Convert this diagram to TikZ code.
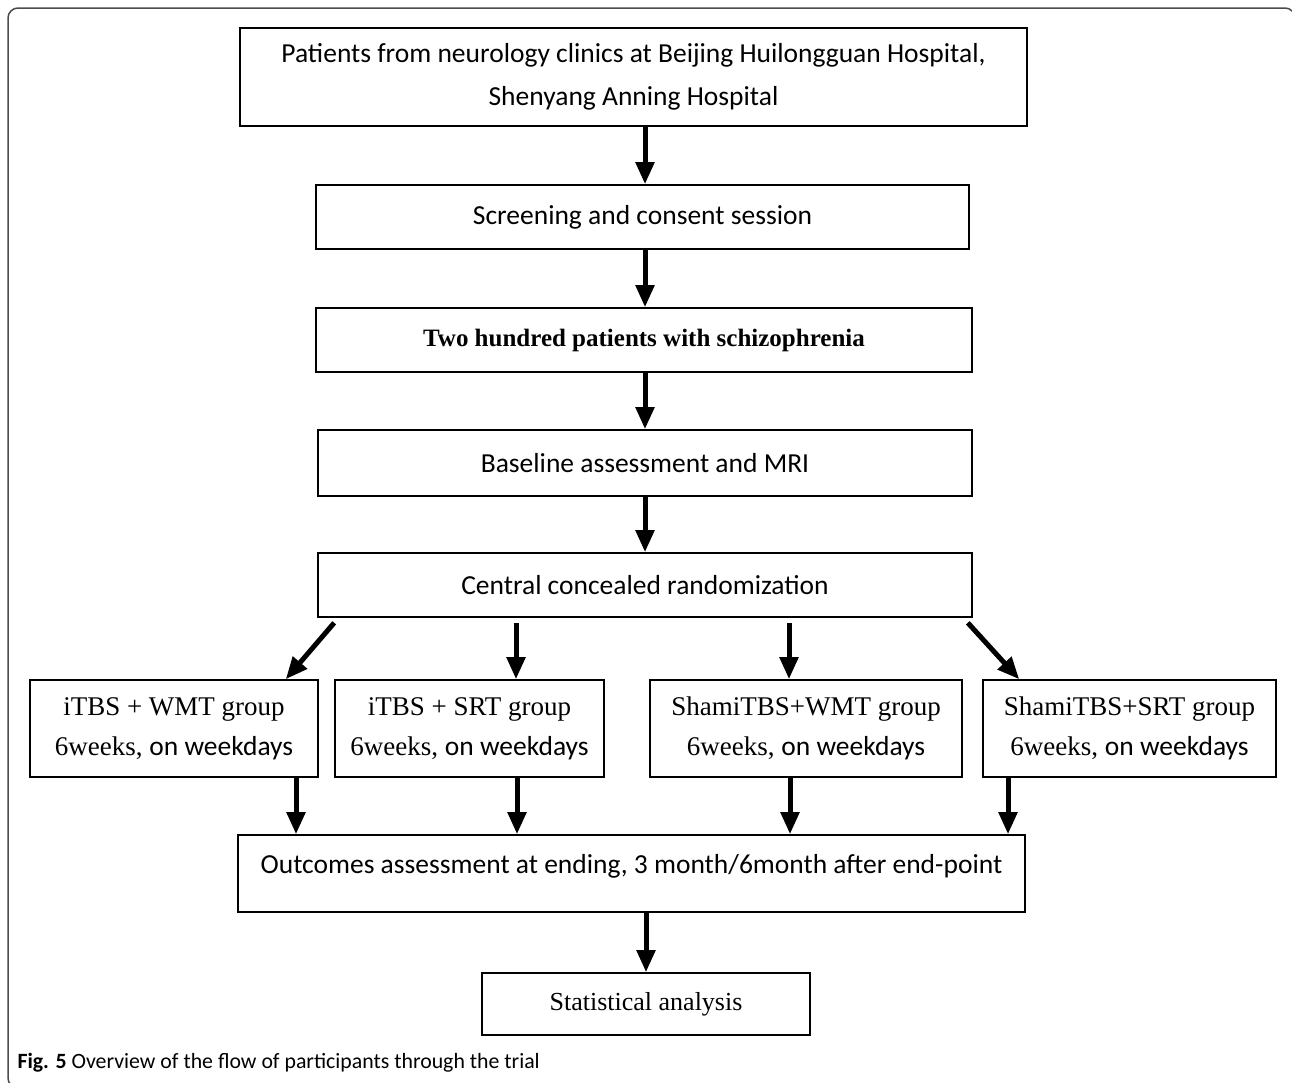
\documentclass[tikz,border=0pt]{standalone}
\usepackage{fontspec}
\setmainfont{Liberation Serif}
\newfontfamily\calfont{Carlito}
\usetikzlibrary{arrows.meta}
\begin{document}
\begin{tikzpicture}[x=1pt,y=-1pt,
  box/.style={draw,line width=1.6pt,align=center,inner sep=0pt,minimum height=64pt},
  sans/.style={font=\calfont\fontsize{27.5}{32}\selectfont},
  grp/.style={box,minimum height=97pt,font=\fontsize{27}{40}\selectfont},
  arr/.style={line width=5pt,-{Triangle[width=18pt,length=22pt]}}]
\useasboundingbox (0,0) rectangle (1292,1082);
\draw[gray!60!black,line width=1.5pt,rounded corners=10pt] (8,8) rectangle (1295,1088);
\node[box,minimum width=787pt,minimum height=98pt,font=\calfont\fontsize{27.5}{43}\selectfont] (b1) at (633.5,77) {Patients from neurology clinics at Beijing Huilongguan Hospital,\\Shenyang Anning Hospital};
\node[box,sans,minimum width=653pt] (b2) at (642.5,217) {Screening and consent session};
\node[box,minimum width=656pt,font=\bfseries\fontsize{25}{30}\selectfont] (b3) at (644,340) {Two hundred patients with schizophrenia};
\node[box,sans,minimum width=654pt,minimum height=66pt] (b4) at (645,463) {Baseline assessment and MRI};
\node[box,sans,minimum width=654pt] (b5) at (645,585) {Central concealed randomization};
\node[grp,minimum width=288pt] (g1) at (174,728.5) {iTBS + WMT group\\6weeks, {\calfont\fontsize{27.5}{40}\selectfont on weekdays}};
\node[grp,minimum width=269pt] (g2) at (469.5,728.5) {iTBS + SRT group\\6weeks, {\calfont\fontsize{27.5}{40}\selectfont on weekdays}};
\node[grp,minimum width=312pt] (g3) at (806,728.5) {ShamiTBS+WMT group\\6weeks, {\calfont\fontsize{27.5}{40}\selectfont on weekdays}};
\node[grp,minimum width=293pt] (g4) at (1129.5,728.5) {ShamiTBS+SRT group\\6weeks, {\calfont\fontsize{27.5}{40}\selectfont on weekdays}};
\node[box,minimum width=787pt,minimum height=77pt] (b6) at (631.5,873.5) {};
\node[sans,yshift=7.5pt] (b6text) at (b6.center) {Outcomes assessment at ending, 3 month/6month after end-point};
\node[box,minimum width=328pt,minimum height=62pt,font=\fontsize{26}{30}\selectfont] (b7) at (646,1004) {Statistical analysis};
\node[anchor=west,font=\calfont\fontsize{21.8}{26}\selectfont] (cap) at (14,1063) {\textbf{Fig. 5} Overview of the flow of participants through the trial};
\draw[arr] (b1.south -| b4) -- (b2.north -| b4); \draw[arr] (b2.south -| b4) -- (b3.north -| b4);
\draw[arr] (b3.south -| b4) -- (b4.north); \draw[arr] (b4.south) -- (b5.north);
\draw[arr] ([xshift=17pt,yshift=-5pt]b5.south west) -- ([xshift=-33pt]g1.north east);
\draw[arr] ([xshift=46.5pt,yshift=-5pt]g2.north |- b5.south) -- ([xshift=46.5pt]g2.north);
\draw[arr] ([xshift=-17pt,yshift=-5pt]g3.north |- b5.south) -- ([xshift=-17pt]g3.north);
\draw[arr] ([xshift=-5pt,yshift=-5pt]b5.south east) -- ([xshift=37pt]g4.north west);
\draw[arr] ([xshift=122pt]g1.south) -- ([xshift=122pt]g1.south |- b6.north);
\draw[arr] ([xshift=47.5pt]g2.south) -- ([xshift=47.5pt]g2.south |- b6.north);
\draw[arr] ([xshift=-16pt]g3.south) -- ([xshift=-16pt]g3.south |- b6.north);
\draw[arr] ([xshift=-121.5pt]g4.south) -- ([xshift=-121.5pt]g4.south |- b6.north);
\draw[arr] (b6.south -| b7) -- (b7.north);
\end{tikzpicture}
\end{document}
